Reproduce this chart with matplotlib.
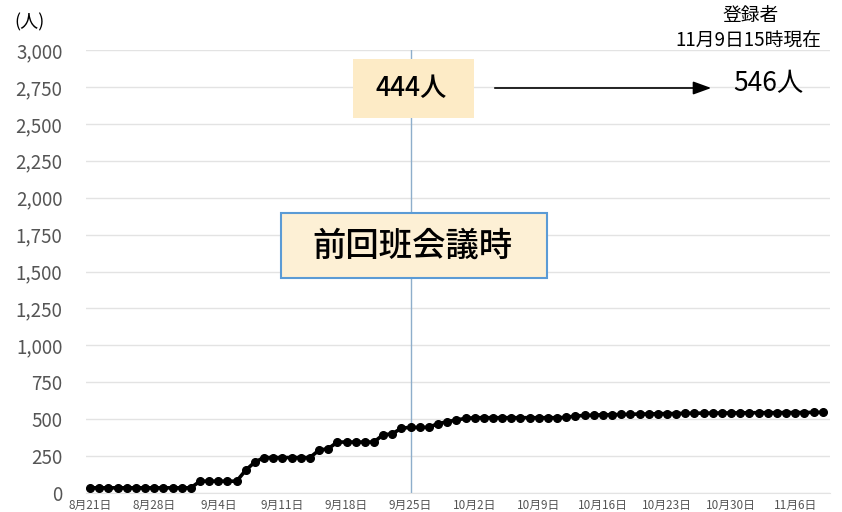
import matplotlib
matplotlib.use("Agg")
import matplotlib.pyplot as plt
from matplotlib.patches import Rectangle, FancyArrowPatch

plt.rcParams['font.family'] = ['Noto Sans CJK JP', 'DejaVu Sans']

# ------------------------------------------------------------------------------
# DATA (daily cumulative registrants, 8/21 .. 11/9)
# ------------------------------------------------------------------------------
registrants = [
    35, 35, 35, 35, 35, 35, 35, 35, 35, 35, 35, 35,     # 8/21 - 9/1
    80, 80, 80, 80, 80,                                 # 9/2 - 9/6
    155, 210,                                           # 9/7 - 9/8
    240, 240, 240, 240, 240, 240,                       # 9/9 - 9/14
    290, 300,                                           # 9/15 - 9/16
    345, 345, 345, 345, 345,                            # 9/17 - 9/21
    395, 400, 440, 444, 444, 445,                       # 9/22 - 9/27
    470, 482, 495, 505,                                 # 9/28 - 10/1
    510, 510, 510, 510, 510, 510, 510, 510, 510, 510, 512,  # 10/2 - 10/12
    522, 525, 527, 530, 530, 532, 533, 535, 535, 537,
    538, 538, 540, 540, 541, 541, 542, 542, 543, 543,
    544, 544, 544, 545, 545, 545, 546, 546,             # 10/13 - 11/9
]
tick_labels = ["8月21日", "8月28日", "9月4日", "9月11日", "9月18日", "9月25日",
               "10月2日", "10月9日", "10月16日", "10月23日", "10月30日", "11月6日"]
y_ticks = [0, 250, 500, 750, 1000, 1250, 1500, 1750, 2000, 2250, 2500, 2750, 3000]
meeting_day = 35   # index of 9/25

W, H = 842, 512


def fx(px):
    return px / W


def fy(py):
    return 1 - py / H


fig = plt.figure(figsize=(W / 100, H / 100), dpi=100)
ax = fig.add_axes([fx(86), fy(493), fx(830) - fx(86), fy(50) - fy(493)])

days = list(range(len(registrants)))
ax.plot(days, registrants, color="black", lw=2.6, marker="o", ms=5.5, zorder=3)

ax.set_xlim(-0.45, 80.8)
ax.set_ylim(0, 3000)
ax.set_yticks(y_ticks)
ax.set_yticklabels([f"{v:,}" for v in y_ticks], fontsize=13.5, color="#555555")
ax.set_xticks(range(0, len(registrants), 7))
ax.set_xticklabels(tick_labels, fontsize=8.5, color="#555555")
ax.tick_params(axis="both", length=0)
ax.tick_params(axis="y", pad=17)
ax.tick_params(axis="x", pad=4)
ax.grid(axis="y", color="#e3e3e3", lw=1)
for s in ax.spines.values():
    s.set_visible(False)
ax.spines["bottom"].set_visible(True)
ax.spines["bottom"].set_color("#e3e3e3")

# vertical line at previous meeting
ax.axvline(meeting_day, color="#8eaecb", lw=1, zorder=2)

# boxes
fig.patches.append(Rectangle((fx(353), fy(118)), fx(474) - fx(353), fy(59) - fy(118),
                             transform=fig.transFigure, facecolor="#fdebc6",
                             edgecolor="none", zorder=5))
fig.text(fx(411), fy(89), "444人", fontsize=19, fontweight="medium",
         ha="center", va="center", zorder=6)

fig.patches.append(Rectangle((fx(281), fy(278)), fx(547) - fx(281), fy(213) - fy(278),
                             transform=fig.transFigure, facecolor="#fdf0d5",
                             edgecolor="#5b9bd5", lw=1.5, zorder=5))
fig.text(fx(413), fy(246), "前回班会議時", fontsize=24, fontweight="medium",
         ha="center", va="center", zorder=6)

# arrow and current count
fig.add_artist(FancyArrowPatch(
    (fx(492), fy(88)), (fx(714), fy(88)), transform=fig.transFigure,
    arrowstyle="-|>,head_length=1.1,head_width=0.4", mutation_scale=10,
    color="black", lw=1.2))
fig.text(fx(768), fy(84), "546人", fontsize=19, ha="center", va="center")

fig.text(fx(751), fy(16), "登録者", fontsize=13.5, ha="center", va="center")
fig.text(fx(748), fy(41), "11月9日15時現在", fontsize=13.5, ha="center", va="center")
fig.text(fx(30), fy(22), "(人)", fontsize=13, ha="center", va="center")

fig.savefig("out.png", dpi=100, facecolor="white")
